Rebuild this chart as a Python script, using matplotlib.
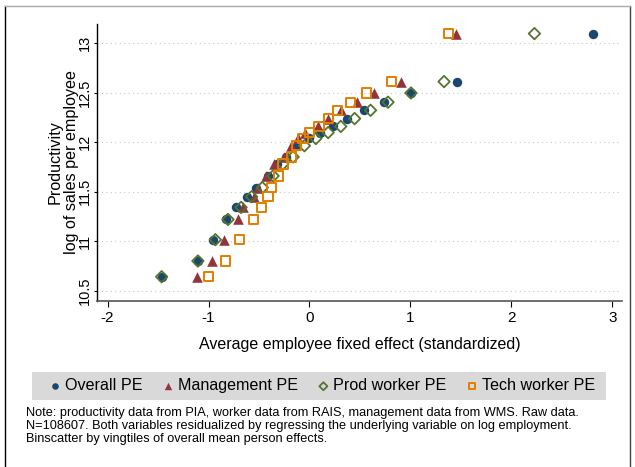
import matplotlib
matplotlib.use('Agg')
import matplotlib.pyplot as plt
from matplotlib.lines import Line2D
from matplotlib.patches import Rectangle

plt.rcParams['font.family'] = ['Liberation Sans', 'DejaVu Sans']
plt.rcParams['axes.unicode_minus'] = False

# mean productivity per vingtile bin (shared across series)
productivity = [10.641, 10.800, 11.015, 11.220, 11.342, 11.450, 11.542, 11.660, 11.780, 11.852,
                11.965, 12.038, 12.098, 12.160, 12.239, 12.323, 12.405, 12.498, 12.613, 13.098]

overall_pe = [-1.464, -1.105, -0.952, -0.828, -0.723, -0.620, -0.525, -0.415, -0.319, -0.232,
              -0.122, -0.004, 0.105, 0.234, 0.375, 0.539, 0.740, 1.005, 1.459, 2.812]
management_pe = [-1.110, -0.965, -0.849, -0.704, -0.662, -0.553, -0.510, -0.433, -0.347, -0.257,
                 -0.185, -0.112, -0.040, 0.083, 0.186, 0.310, 0.472, 0.637, 0.904, 1.449]
prod_worker_pe = [-1.464, -1.105, -0.932, -0.807, -0.677, -0.573, -0.467, -0.360, -0.264, -0.162,
                  -0.050, 0.063, 0.185, 0.310, 0.447, 0.605, 0.778, 1.005, 1.333, 2.228]
tech_worker_pe = [-1.003, -0.830, -0.692, -0.555, -0.474, -0.410, -0.378, -0.305, -0.262, -0.178,
                  -0.126, -0.065, 0.004, 0.094, 0.186, 0.276, 0.405, 0.564, 0.812, 1.380]

x_ticks = [-2, -1, 0, 1, 2, 3]
y_ticks = [10.5, 11, 11.5, 12, 12.5, 13]
y_ticklabels = ['10.5', '11', '11.5', '12', '12.5', '13']

navy = '#1a476f'
maroon = '#90353b'
green = '#55752f'
orange = '#e37e00'

fig = plt.figure(figsize=(6.35, 4.67), dpi=100)
ax = fig.add_axes([0.1528, 0.3555, 0.8267, 0.5931])

ax.scatter(overall_pe, productivity, marker='o', s=46, color=navy, linewidths=0, zorder=3,
           label='Overall PE')
ax.scatter(management_pe, productivity, marker='^', s=58, color=maroon, linewidths=0, zorder=3,
           label='Management PE')
ax.scatter(prod_worker_pe, productivity, marker='D', s=34, facecolors='none', edgecolors=green,
           linewidths=1.3, zorder=3, label='Prod worker PE')
ax.scatter(tech_worker_pe, productivity, marker='s', s=44, facecolors='none', edgecolors=orange,
           linewidths=1.4, zorder=3, label='Tech worker PE')

ax.set_xlim(-2.104, 3.095)
ax.set_ylim(10.396, 13.195)
ax.set_xticks(x_ticks)
ax.set_yticks(y_ticks)
ax.set_yticklabels(y_ticklabels, rotation=90, va='center')
ax.tick_params(labelsize=11, length=4, width=0.8, colors='black', pad=3)
ax.tick_params(axis='y', length=2.5, pad=1.5, labelsize=10.5)
ax.grid(axis='y', linestyle=(0, (1, 3)), color='#c8c8c8', linewidth=0.8)
ax.set_axisbelow(True)

for side in ['top', 'right']:
    ax.spines[side].set_visible(False)
ax.spines['left'].set_color('black')
ax.spines['bottom'].set_color('#555555')
ax.spines['left'].set_linewidth(1.0)
ax.spines['bottom'].set_linewidth(1.2)

ax.set_xlabel('Average employee fixed effect (standardized)', fontsize=11.5, labelpad=9)
ax.set_ylabel('Productivity\nlog of sales per employee', fontsize=11.6, labelpad=0, linespacing=1.12)
ax.yaxis.set_label_coords(-0.035, 0.5)

# legend: gray band with entries packed in the middle
fig.add_artist(Rectangle((0.0504, 0.1435), 0.9036, 0.06, transform=fig.transFigure,
                         facecolor='#d9d9d9', edgecolor='none', zorder=0))
leg = fig.legend(loc='center', bbox_to_anchor=(0.506, 0.1735), ncol=4, fontsize=11.6,
                 frameon=False, handletextpad=0.15, handlelength=0.9, markerscale=0.7,
                 columnspacing=1.15)

note = ('Note: productivity data from PIA, worker data from RAIS, management data from WMS. Raw data.\n'
        'N=108607. Both variables residualized by regressing the underlying variable on log employment.\n'
        'Binscatter by vingtiles of overall mean person effects.')
fig.text(0.041, 0.128, note, fontsize=9.2, va='top', ha='left', linespacing=1.12)

# outer frame
fig.add_artist(Line2D([0.0079, 0.0079], [0, 0.987], color='black', lw=1.0))
fig.add_artist(Line2D([0.992, 0.992], [0, 0.987], color='#444444', lw=1.0))
fig.add_artist(Line2D([0.0079, 0.992], [0.987, 0.987], color='#aaaaaa', lw=1.0))

fig.savefig('out.png', dpi=100)
